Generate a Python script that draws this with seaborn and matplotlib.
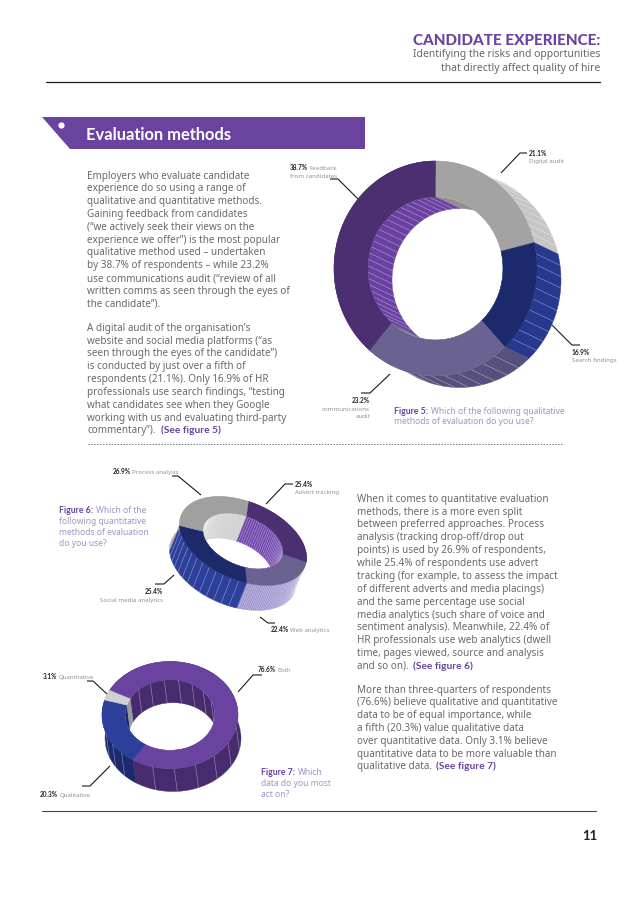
import numpy as np
import matplotlib
matplotlib.use("Agg")
import matplotlib.pyplot as plt
from matplotlib.patches import Polygon
import seaborn as sns

# ---------- data ----------
fig5_labels = ["Digital audit", "Search findings", "communications audit", "Feedback from candidates"]
fig5_values = [21.1, 16.9, 23.2, 38.7]
fig6_labels = ["Advert tracking", "Web analytics", "Social media analytics", "Process analysis"]
fig6_values = [25.4, 22.4, 25.4, 26.9]
fig7_labels = ["Both", "Qualitative", "Quantitative"]
fig7_values = [76.6, 20.3, 3.1]

fig5_top = ["#a3a3a3", "#1c2a6c", "#6a6290", "#4b2f70"]
fig5_outer = ["#c6c6c6", "#27398f", "#56507c", "#4b2f70"]
fig5_inner = ["#8f8f8f", "#1c2a6c", "#6a6290", "#6a40a2"]
fig6_top = ["#4b2f70", "#6a6290", "#1c2a6c", "#a0a0a0"]
fig6_outer = ["#4b2f70", "#9c92cc", "#2c3f9a", "#a8a8a8"]
fig6_inner = ["#6f45ac", "#6a6290", "#1c2a6c", "#c4c4c4"]
fig7_top = ["#6a43a0", "#2c3f9a", "#d0d0d0"]
fig7_outer = ["#462b6e", "#1c2a6c", "#9a9a9a"]
fig7_inner = ["#462b6e", "#1c2a6c", "#9a9a9a"]

para1 = ["Employers who evaluate candidate", "experience do so using a range of",
         "qualitative and quantitative methods.", "Gaining feedback from candidates",
         "(“we actively seek their views on the", "experience we offer”) is the most popular",
         "qualitative method used – undertaken", "by 38.7% of respondents – while 23.2%",
         "use communications audit (“review of all", "written comms as seen through the eyes of",
         "the candidate”)."]
para2 = ["A digital audit of the organisation’s", "website and social media platforms (“as",
         "seen through the eyes of the candidate”)", "is conducted by just over a fifth of",
         "respondents (21.1%). Only 16.9% of HR", "professionals use search findings, “testing",
         "what candidates see when they Google", "working with us and evaluating third-party"]
para3 = ["When it comes to quantitative evaluation", "methods, there is a more even split",
         "between preferred approaches. Process", "analysis (tracking drop-off/drop out",
         "points) is used by 26.9% of respondents,", "while 25.4% of respondents use advert",
         "tracking (for example, to assess the impact", "of different adverts and media placings)",
         "and the same percentage use social", "media analytics (such share of voice and",
         "sentiment analysis). Meanwhile, 22.4% of", "HR professionals use web analytics (dwell",
         "time, pages viewed, source and analysis"]
para4 = ["More than three-quarters of respondents", "(76.6%) believe qualitative and quantitative",
         "data to be of equal importance, while", "a fifth (20.3%) value qualitative data",
         "over quantitative data. Only 3.1% believe", "quantitative data to be more valuable than"]

# ---------- style ----------
sns.set_theme(style="white")
plt.rcParams["font.family"] = ["Noto Sans", "DejaVu Sans"]
HEAD = ["Lato", "DejaVu Sans"]
BODY = "#6a686e"
PURPLE = "#6a43a0"
LILAC = "#a093c6"
DARK = "#222222"
LABEL = "#909090"

fig = plt.figure(figsize=(6.38, 9.03), dpi=100, facecolor="white")
ax = fig.add_axes([0, 0, 1, 1])
ax.set_xlim(0, 638)
ax.set_ylim(903, 0)
ax.axis("off")


def ell(t, c, a, b, rot):
    cr, sr = np.cos(rot), np.sin(rot)
    u, v = a * np.cos(t), b * np.sin(t)
    return np.column_stack([c[0] + u * cr - v * sr, c[1] + u * sr + v * cr])


def stripes(e0, e1, dens, c, a, b, rot, off, z, clip=None):
    n = int(dens * (e1 - e0))
    for s in np.linspace(e0, e1, n + 2)[1:-1]:
        q = ell(np.array([s]), c, a, b, rot)[0]
        ln, = ax.plot([q[0], q[0] + off[0]], [q[1], q[1] + off[1]], color="white",
                      lw=0.4, alpha=0.5, zorder=z, solid_capstyle="butt")
        if clip is not None:
            ln.set_clip_path(clip)


def donut(values, start_deg, c, a, b, rot_deg, ratio, off, top, outer, inner, nout, nin):
    off = np.asarray(off, float)
    rot = np.radians(rot_deg)
    edges = np.radians(start_deg) + 2 * np.pi * np.concatenate([[0], np.cumsum(values)]) / sum(values)
    full = np.linspace(0, 2 * np.pi, 240)
    # outer walls
    for i in range(len(values)):
        t = np.linspace(edges[i], edges[i + 1], 90)
        p = ell(t, c, a, b, rot)
        ax.add_patch(Polygon(np.vstack([p, (p + off)[::-1]]), fc=outer[i], ec=outer[i], lw=0.3, zorder=2))
        stripes(edges[i], edges[i + 1], nout[i], c, a, b, rot, off, 2.1)
    # hole: everything seen through the inner edge of the top face is page or inner wall
    hole = Polygon(ell(full, c, a * ratio, b * ratio, rot), fc="white", ec="none", zorder=2.5)
    ax.add_patch(hole)
    # inner walls, only visible through the hole
    for i in range(len(values)):
        t = np.linspace(edges[i], edges[i + 1], 90)
        p = ell(t, c, a * ratio, b * ratio, rot)
        wall = Polygon(np.vstack([p, (p + off)[::-1]]), fc=inner[i], ec=inner[i], lw=0.3, zorder=3)
        ax.add_patch(wall)
        wall.set_clip_path(hole)
        stripes(edges[i], edges[i + 1], nin[i], c, a * ratio, b * ratio, rot, off, 3.1, clip=hole)
    # top face
    for i in range(len(values)):
        t = np.linspace(edges[i], edges[i + 1], 90)
        po = ell(t, c, a, b, rot)
        pi_ = ell(t, c, a * ratio, b * ratio, rot)
        ax.add_patch(Polygon(np.vstack([po, pi_[::-1]]), fc=top[i], ec=top[i], lw=0.3, zorder=4))


def leader(pts):
    xs, ys = zip(*pts)
    ax.plot(xs, ys, color="#1a1a1a", lw=0.8, zorder=6, solid_capstyle="butt")


def para(lines, x, y0, step, size=7.15):
    for k, s in enumerate(lines):
        ax.text(x, y0 + k * step, s, fontsize=size, color=BODY, va="baseline", ha="left")


def bold_then(x, y, bold, rest, size=4.7):
    t = ax.text(x, y, bold, fontsize=size, fontweight="bold", family=HEAD, color=DARK, ha="left", va="baseline")
    w = t.get_window_extent(fig.canvas.get_renderer()).width
    ax.text(x + w + 1, y, rest, fontsize=4.4, color=LABEL, ha="left", va="baseline")


def pct(x, y, s, ha="left"):
    ax.text(x, y, s, fontsize=4.7, fontweight="bold", family=HEAD, color=DARK, ha=ha)


def small(x, y, s, ha="left"):
    ax.text(x, y, s, fontsize=4.4, color=LABEL, ha=ha)


def cap_bold(x, y, s):
    ax.text(x, y, s, fontsize=6.3, fontweight="bold", family=HEAD, color=PURPLE)


def cap(x, y, s):
    ax.text(x, y, s, fontsize=6.1, color=LILAC)


# ---------- header ----------
ax.text(600, 45, "CANDIDATE EXPERIENCE:", fontsize=11, fontweight="black", family=HEAD, color=PURPLE, ha="right", va="baseline")
ax.text(600, 57.5, "Identifying the risks and opportunities", fontsize=7.45, color="#666666", ha="right", va="baseline")
ax.text(600, 70.5, "that directly affect quality of hire", fontsize=7.45, color="#666666", ha="right", va="baseline")
ax.plot([46, 600], [83, 83], color="#1a1a1a", lw=0.9)

# ---------- banner ----------
ax.add_patch(Polygon([[42, 118], [365, 118], [365, 150], [70, 150]], fc=PURPLE, ec="none", zorder=1))
ax.scatter([60.5], [125.5], s=20, color="white", zorder=2, linewidths=0)
ax.text(86, 140.5, "Evaluation methods", fontsize=11.9, fontweight="bold", family=HEAD, color="white", va="baseline")

# ---------- body ----------
para(para1, 87, 178.5, 12.83)
para(para2, 87, 330.7, 12.83)
ax.text(87, 433.3, "commentary”).", fontsize=7.15, color=BODY)
ax.text(161, 433.3, "(See figure 5)", fontsize=7.3, fontweight="bold", family=HEAD, color=PURPLE)
para(para3, 357, 501.7, 12.87)
ax.text(357, 669, "and so on).", fontsize=7.15, color=BODY)
ax.text(413, 669, "(See figure 6)", fontsize=7.3, fontweight="bold", family=HEAD, color=PURPLE)
para(para4, 357, 692.7, 12.8)
ax.text(357, 769.5, "qualitative data.", fontsize=7.15, color=BODY)
ax.text(436, 769.5, "(See figure 7)", fontsize=7.3, fontweight="bold", family=HEAD, color=PURPLE)

ax.plot([88, 562], [445, 445], color="#777777", lw=0.7, ls=(0, (1.5, 1.5)))
ax.plot([42, 596], [812, 812], color="#444444", lw=0.8)
ax.text(590, 840, "11", fontsize=9.5, fontweight="bold", family=HEAD, color="#222222", ha="center", va="baseline")

# ---------- figure 5 ----------
donut(fig5_values, -90, (435.5, 269.5), 101.5, 107.5, 0, 0.665, (24, 11.5),
      fig5_top, fig5_outer, fig5_inner, [11, 9, 7, 0], [0, 0, 8, 11])
leader([(358, 200), (338, 180), (330, 180)])
bold_then(290, 170, "38.7%", "Feedback")
small(290, 178, "from candidates")
leader([(501, 174), (520, 154), (527, 154)])
pct(529, 156, "21.1%")
small(529, 163, "Digital audit")
leader([(552, 326), (572, 346), (580, 346)])
pct(572, 355, "16.9%")
small(572, 362, "Search findings")
leader([(390, 375), (370, 394), (361, 394)])
pct(370, 403, "23.2%", ha="right")
small(370, 411, "communications", ha="right")
small(370, 418, "audit", ha="right")
cap_bold(394, 414, "Figure 5:")
cap(431, 414, "Which of the following qualitative")
cap(394, 424, "methods of evaluation do you use?")

# ---------- figure 6 ----------
donut(fig6_values, -99, (243, 542), 67, 39, 23, 0.63, (-10, 25),
      fig6_top, fig6_outer, fig6_inner, [0, 32, 8, 6], [18, 0, 0, 42])
leader([(201, 496), (178, 477), (172, 477)])
bold_then(113, 474, "26.9%", "Process analysis")
leader([(266, 505), (285, 485), (293, 485)])
pct(295, 487, "25.4%")
small(295, 494, "Advert tracking")
leader([(174, 576), (164, 585), (155, 585)])
pct(163, 594, "25.4%", ha="right")
small(163, 602, "Social media analytics", ha="right")
leader([(260, 618), (268, 624), (275, 624)])
bold_then(271, 632, "22.4%", "Web analytics")
cap_bold(59, 513, "Figure 6:")
cap(96, 513, "Which of the")
cap(59, 524, "following quantitative")
cap(59, 535, "methods of evaluation")
cap(59, 546, "do you use?")

# ---------- figure 7 ----------
donut(fig7_values, -152.6, (170, 716), 68, 53.5, 0, 0.66, (3, 23),
      fig7_top, fig7_outer, fig7_inner, [3, 4, 0], [3, 0, 0])
leader([(107, 695), (93, 682), (87, 682)])
bold_then(43, 679, "3.1%", "Quantitative")
leader([(238, 693), (253, 676), (262, 676)])
bold_then(258, 672, "76.6%", "Both")
leader([(110, 767), (90, 787), (82, 787)])
bold_then(40, 797, "20.3%", "Qualitative")
cap_bold(261, 775, "Figure 7:")
cap(298, 775, "Which")
cap(261, 786, "data do you most")
cap(261, 797, "act on?")

fig.savefig("out.png", dpi=100, facecolor="white")
